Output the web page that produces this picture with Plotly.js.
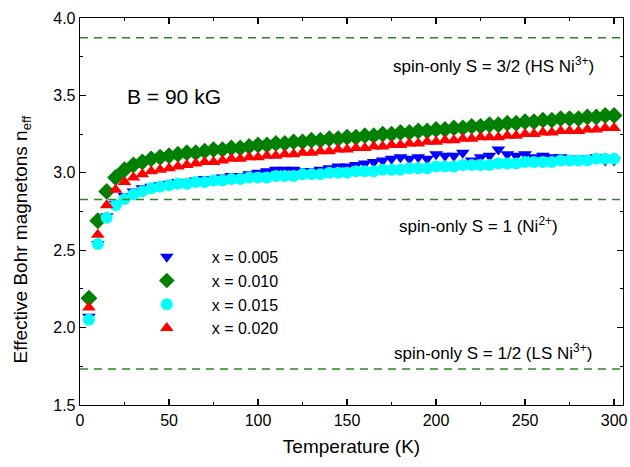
<!DOCTYPE html>
<html>
<head>
<meta charset="utf-8">
<script src="https://cdn.plot.ly/plotly-3.0.1.min.js"></script>
<style>html,body{margin:0;padding:0;background:#fff;}#chart{width:630px;height:467px;}</style>
</head>
<body>
<div id="chart"></div>
<script>
const temperature = [5,10,15,20,25,30,35,40,45,50,55,60,65,70,75,80,85,90,95,100,105,110,115,120,125,130,135,140,145,150,155,160,165,170,175,180,185,190,195,200,205,210,215,220,225,230,235,240,245,250,255,260,265,270,275,280,285,290,295,300];

const neff_x005 = [2.07,2.54,2.72,2.80,2.85,2.88,2.90,2.91,2.92,2.93,2.94,2.94,2.95,2.96,2.96,2.97,2.98,2.98,2.99,3.00,3.01,3.02,3.02,3.02,3.01,3.01,3.02,3.03,3.04,3.04,3.05,3.06,3.07,3.08,3.09,3.10,3.09,3.10,3.09,3.12,3.11,3.11,3.13,3.08,3.10,3.11,3.15,3.12,3.11,3.12,3.10,3.11,3.10,3.10,3.09,3.09,3.09,3.10,3.08,3.08];
const neff_x010 = [2.19,2.69,2.88,2.97,3.02,3.05,3.07,3.09,3.10,3.11,3.12,3.13,3.13,3.14,3.15,3.15,3.16,3.16,3.17,3.18,3.18,3.19,3.19,3.20,3.20,3.21,3.21,3.22,3.22,3.23,3.23,3.24,3.24,3.25,3.25,3.26,3.26,3.27,3.27,3.28,3.28,3.29,3.29,3.30,3.30,3.31,3.31,3.32,3.32,3.33,3.33,3.34,3.34,3.35,3.35,3.35,3.36,3.36,3.37,3.37];
const neff_x015 = [2.05,2.54,2.71,2.79,2.83,2.86,2.88,2.90,2.91,2.92,2.93,2.93,2.94,2.94,2.95,2.95,2.96,2.96,2.97,2.97,2.97,2.98,2.98,2.98,2.99,2.99,2.99,3.00,3.00,3.00,3.01,3.01,3.01,3.02,3.02,3.02,3.03,3.03,3.03,3.04,3.04,3.04,3.05,3.05,3.05,3.05,3.06,3.06,3.06,3.07,3.07,3.07,3.07,3.08,3.08,3.08,3.08,3.09,3.09,3.09];
const neff_x020 = [2.13,2.60,2.79,2.89,2.94,2.97,2.99,3.01,3.02,3.03,3.04,3.05,3.06,3.07,3.07,3.08,3.09,3.09,3.10,3.10,3.11,3.11,3.12,3.12,3.13,3.13,3.14,3.14,3.15,3.15,3.16,3.16,3.17,3.17,3.18,3.18,3.19,3.19,3.20,3.20,3.21,3.21,3.22,3.22,3.23,3.23,3.23,3.24,3.24,3.25,3.25,3.26,3.26,3.27,3.27,3.27,3.28,3.28,3.29,3.29];

const seriesNames = ['x = 0.005','x = 0.010','x = 0.015','x = 0.020'];
const spinOnlyLevels = [3.873, 2.828, 1.732];
const spinOnlyLabels = ['spin-only S = 3/2 (HS Ni<sup>3+</sup>)','spin-only S = 1 (Ni<sup>2+</sup>)','spin-only S = 1/2 (LS Ni<sup>3+</sup>)'];
const fieldLabel = 'B = 90 kG';
const xTitle = 'Temperature (K)';
const yTitle = 'Effective Bohr magnetons n<sub>eff</sub>';

const fontFam = 'Liberation Sans, Arial, sans-serif';
const styles = [
  {symbol:'triangle-down', color:'#0000ff', size:12},
  {symbol:'diamond', color:'#008000', size:13},
  {symbol:'circle', color:'#00ffff', size:12},
  {symbol:'triangle-up', color:'#ff0000', size:12}
];
const ys = [neff_x005, neff_x010, neff_x015, neff_x020];

const traces = ys.map((y,i)=>({
  x: temperature, y: y, type:'scatter', mode:'markers', name: seriesNames[i],
  marker:{symbol:styles[i].symbol, color:styles[i].color, size:styles[i].size, line:{width:0}},
  cliponaxis:false
}));

const shapes = spinOnlyLevels.map(v=>({
  type:'line', xref:'paper', x0:0, x1:1, yref:'y', y0:v, y1:v,
  line:{color:'#2a8a1e', width:1.5, dash:'8px,6px'}
}));

const annX = [232, 224, 232];
const annShift = [-27, -26, 17];
const annotations = spinOnlyLevels.map((v,i)=>({
  xref:'x', yref:'y', x:annX[i], y:v, yshift:annShift[i], xanchor:'center',
  text: spinOnlyLabels[i], showarrow:false, font:{family:fontFam, size:17, color:'#000'}
}));
annotations.push({xref:'x', yref:'y', x:25, y:3.49, xanchor:'left', text:fieldLabel, showarrow:false, font:{family:fontFam, size:21, color:'#000'}});
annotations.push({xref:'paper', yref:'paper', x:-0.107, y:0.5, yshift:-28, xanchor:'center', yanchor:'middle', textangle:-90, text:yTitle, showarrow:false, font:{family:fontFam, size:19, color:'#000'}});

const axisCommon = {
  showline:true, linecolor:'#000', linewidth:1.3, mirror:'allticks',
  ticks:'inside', ticklen:6, tickwidth:1.2, tickcolor:'#000',
  showgrid:false, zeroline:false,
  tickfont:{family:fontFam, size:16, color:'#000'}
};

const layout = {
  width:630, height:467,
  margin:{l:80, r:7, t:18, b:62},
  paper_bgcolor:'#fff', plot_bgcolor:'#fff',
  showlegend:true,
  legend:{x:0.077, y:0.427, xanchor:'left', yanchor:'top', bgcolor:'rgba(0,0,0,0)', font:{family:fontFam, size:16, color:'#000'}, tracegroupgap:0, itemsizing:'constant', itemwidth:80},
  xaxis: Object.assign({}, axisCommon, {
    range:[0,305], tickvals:[0,50,100,150,200,250,300],
    minor:{tickvals:[25,75,125,175,225,275], ticklen:3, tickcolor:'#000', ticks:'inside'},
    title:{text:xTitle, font:{family:fontFam, size:19, color:'#000'}, standoff:12}
  }),
  yaxis: Object.assign({}, axisCommon, {
    range:[1.5,4.0], tickvals:[1.5,2.0,2.5,3.0,3.5,4.0], ticktext:['1.5','2.0','2.5','3.0','3.5','4.0'],
    minor:{tickvals:[1.75,2.25,2.75,3.25,3.75], ticklen:3, tickcolor:'#000', ticks:'inside'}
  }),
  shapes: shapes,
  annotations: annotations
};

Plotly.newPlot('chart', traces, layout, {displayModeBar:false, staticPlot:true});
</script>
</body>
</html>
